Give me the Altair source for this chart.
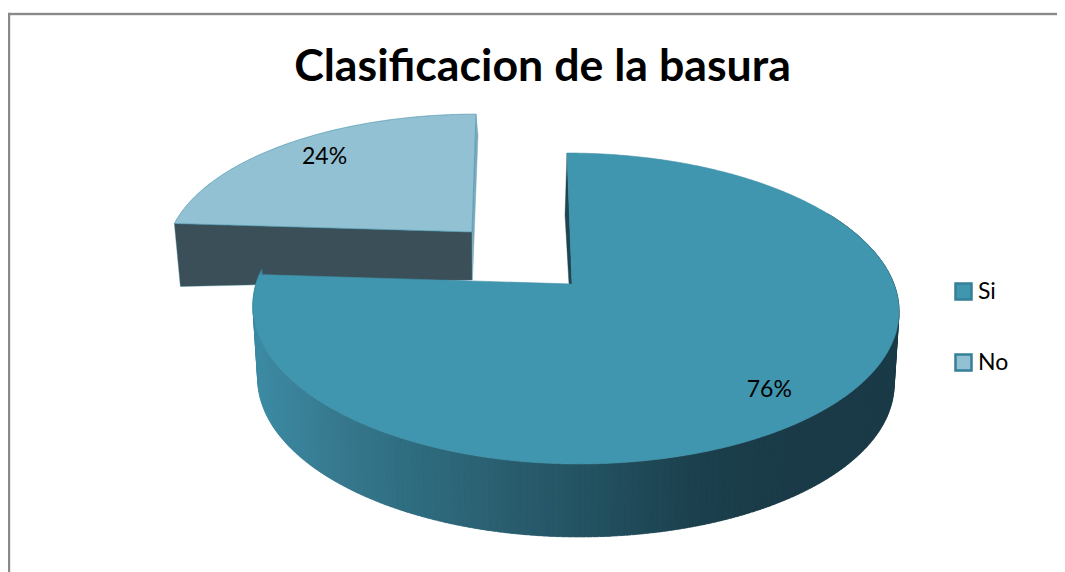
import math
import numpy as np
import altair as alt

TITLE = "Clasificacion de la basura"
CATS = ["Si", "No"]
VALUES = [76, 24]
TOP_COLORS = ["#3f96ae", "#92c1d3"]
FONT = "Lato"

# shading of the side wall, left to right
WALL_X = [250, 340, 400, 500, 600, 700, 800, 900]
WALL_R = [0x3d, 0x37, 0x30, 0x2a, 0x22, 0x1c, 0x1a, 0x1a]
WALL_G = [0x8c, 0x78, 0x6e, 0x5f, 0x50, 0x40, 0x3a, 0x3a]
WALL_B = [0xa5, 0x8e, 0x82, 0x70, 0x5f, 0x4d, 0x47, 0x47]

# page pixel to chart frame: the page margin
OX, OY = 8, 8
K = 0.1576
AX_R, AX_L, B = 322, 316, 151.6


def pt(theta, apex, scale=1.0, shear=0.0, dy=0.0, wall=1.0):
    t = math.radians(theta)
    u, v = math.sin(t), -math.cos(t)
    a = AX_R if u > 0 else AX_L
    d = 1 - K * v
    x = a * u / d * scale * wall
    y = B * v / d * scale
    return (apex[0] + x + shear * y - OX, apex[1] + y + dy - OY)


def shift(p, dx, dy):
    return (p[0] + dx, p[1] + dy)


def feature(points, **props):
    ring = [list(p) for p in points] + [list(points[0])]
    return {"type": "Feature", "properties": props,
            "geometry": {"type": "Polygon", "coordinates": [ring]}}


def arc(start, end, **kw):
    n = int(abs(end - start)) * 2 + 1
    return [pt(a, **kw) for a in np.linspace(start, end, n)]


si_deg = VALUES[0] / sum(VALUES) * 360
SI = dict(apex=(572, 284), shear=0.038)
NO = dict(apex=(472, 232), scale=0.90, wall=1.06, shear=-0.034)

# surfaces drawn beneath the tops
under = []
no_apex = pt(0, **{**NO, "scale": 0.0})
no_e = pt(si_deg, **NO)
no_s = pt(360, **NO)
under.append(feature([no_e, no_apex, shift(no_apex, 0, 48), shift(no_e, 6, 63)],
                     fill="#3a4f58", stroke="#3f8096"))
under.append(feature([no_s, shift(no_s, 2, 21), shift(no_apex, 0.5, 48), no_apex],
                     fill="#7aaabb", stroke="#6fa2b5"))
si_a = pt(0, **{**SI, "scale": 0.0})
si_s = pt(0, **SI)
under.append(feature([si_s, shift(si_s, -2, 62), shift(si_a, -3, 0), si_a],
                     fill="#1d4552", stroke="#1d4552"))
# side wall in thin overlapping strips
for a0 in np.arange(60, 275, 1.0):
    a1 = a0 + 1.8
    p0, p1 = pt(a0, **SI), pt(a1, **SI)
    q0 = pt(a0, dy=73, wall=0.985, **SI)
    q1 = pt(a1, dy=73, wall=0.985, **SI)
    xm = (p0[0] + p1[0]) / 2 + OX
    col = "#%02x%02x%02x" % (int(np.interp(xm, WALL_X, WALL_R)),
                             int(np.interp(xm, WALL_X, WALL_G)),
                             int(np.interp(xm, WALL_X, WALL_B)))
    under.append(feature([p0, p1, q1, q0], fill=col, stroke=col))

tops = [
    feature([si_a] + arc(0, si_deg, **SI), name=CATS[0]),
    feature([no_apex] + arc(si_deg, 360, **NO), name=CATS[1]),
]

frame = [
    feature([(8 - OX, 13 - OY), (1065 - OX, 13 - OY), (1065 - OX, 15 - OY), (8 - OX, 15 - OY)],
            fill="#8a8a8a", stroke="#8a8a8a"),
    feature([(8 - OX, 13 - OY), (10 - OX, 13 - OY), (10 - OX, 572 - OY), (8 - OX, 572 - OY)],
            fill="#8a8a8a", stroke="#8a8a8a"),
]

# labels sit on each slice's mid angle
lab_si = pt(si_deg / 2 + 2, apex=SI["apex"], scale=0.82)
lab_no = pt(si_deg + (360 - si_deg) / 2, apex=NO["apex"], scale=0.76)
labels = [
    {"lon": lab_si[0], "lat": lab_si[1], "txt": f"{VALUES[0]}%"},
    {"lon": lab_no[0], "lat": lab_no[1], "txt": f"{VALUES[1]}%"},
]

PROJ = dict(type="identity", scale=1, translate=[0, 0])


def geo(features):
    return alt.Data(values=features, format=alt.DataFormat(type="json"))


base = (
    alt.Chart(geo(frame + under))
    .mark_geoshape(strokeWidth=0.4)
    .encode(fill=alt.Fill("properties.fill:N", scale=None),
            stroke=alt.Stroke("properties.stroke:N", scale=None))
    .project(**PROJ)
)

top = (
    alt.Chart(geo(tops))
    .mark_geoshape(stroke="#3f8ea6", strokeWidth=0.6)
    .encode(
        fill=alt.Fill(
            "properties.name:N",
            scale=alt.Scale(domain=CATS, range=TOP_COLORS),
            sort=CATS,
            legend=alt.Legend(
                title=None, orient="none", legendX=944, legendY=272,
                symbolType="square", symbolSize=256,
                symbolStrokeColor="#357f98", symbolStrokeWidth=2.5,
                labelFont=FONT, labelFontSize=23, labelColor="#000000",
                labelOffset=3, rowPadding=44, labelLimit=100,
            ),
        )
    )
    .project(**PROJ)
)

txt = (
    alt.Chart(alt.Data(values=labels))
    .mark_text(font=FONT, fontSize=23, color="#000000", align="center", baseline="middle")
    .encode(longitude="lon:Q", latitude="lat:Q", text="txt:N")
    .project(**PROJ)
)

chart = (
    alt.layer(base, top, txt)
    .resolve_scale(fill="independent", stroke="independent")
    .properties(
        width=1049, height=564,
        padding=0,
        autosize=alt.AutoSizeParams(type="none"),
        title=alt.TitleParams(TITLE, font=FONT, fontSize=44.7, fontWeight="bold",
                              color="#000000", anchor="middle", dx=10, offset=-83),
    )
    .configure_view(stroke=None)
)

chart.save("out.html", embed_options={"renderer": "svg", "actions": False})
